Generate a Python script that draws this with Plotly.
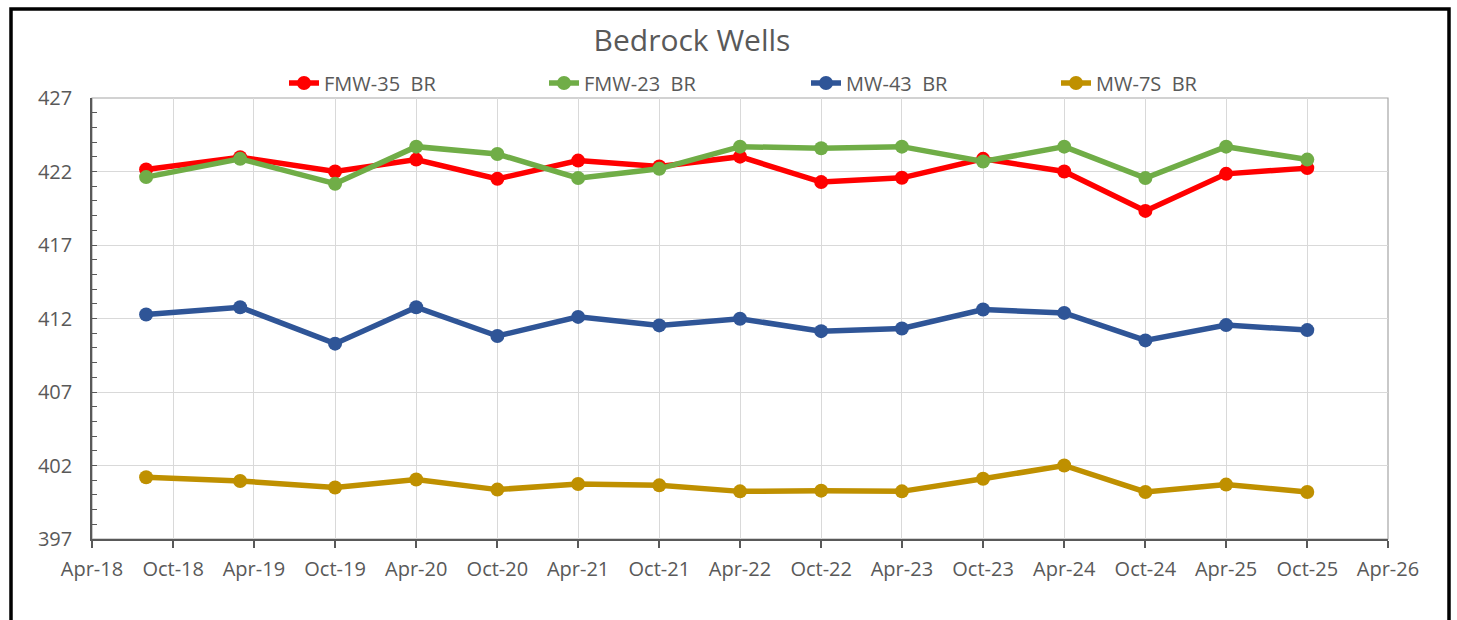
import plotly.graph_objects as go

dates = ["2018-08-01", "2019-03-01", "2019-10-01", "2020-04-01", "2020-10-01",
         "2021-04-01", "2021-10-01", "2022-04-01", "2022-10-01", "2023-04-01",
         "2023-10-01", "2024-04-01", "2024-10-01", "2025-04-01", "2025-10-01"]

fmw35 = [422.14, 422.97, 422.0, 422.81, 421.50, 422.74, 422.34, 423.01, 421.28, 421.57,
         422.86, 422.0, 419.32, 421.84, 422.23]
fmw23 = [421.62, 422.86, 421.17, 423.69, 423.19, 421.55, 422.18, 423.69, 423.58, 423.69,
         422.68, 423.69, 421.55, 423.69, 422.81]
mw43 = [412.27, 412.77, 410.29, 412.77, 410.81, 412.11, 411.53, 411.98, 411.14, 411.32,
        412.61, 412.38, 410.51, 411.55, 411.21]
mw7s = [401.2, 400.95, 400.5, 401.05, 400.36, 400.74, 400.65, 400.24, 400.29, 400.24,
        401.1, 402.0, 400.2, 400.7, 400.2]

series_names = ["FMW-35\u00a0 BR", "FMW-23\u00a0 BR", "MW-43\u00a0 BR", "MW-7S\u00a0 BR"]
series_values = [fmw35, fmw23, mw43, mw7s]
series_colors = ["#FF0000", "#70AD47", "#2F5597", "#BF9000"]

FONT = "Open Sans"
TXT = "#595959"

# legend text start positions (px) for each series
legend_text_px = [325, 585, 847, 1097]
legend_ids = ["legend", "legend2", "legend3", "legend4"]

fig = go.Figure()
for name, vals, col, lid in zip(series_names, series_values, series_colors, legend_ids):
    fig.add_trace(go.Scatter(
        x=dates, y=vals, name=name, mode="lines+markers",
        line=dict(color=col, width=5.5),
        marker=dict(color=col, size=14, symbol="circle"),
        legend=lid,
    ))

legend_layout = {}
for lid, tx in zip(legend_ids, legend_text_px):
    legend_layout[lid] = dict(
        orientation="h", x=(tx - 41 - 92) / 1296, xanchor="left",
        y=1 + 15 / 441, yanchor="middle",
        font=dict(family=FONT, size=20, color=TXT),
        bgcolor="rgba(0,0,0,0)",
    )

fig.update_layout(
    width=1457, height=620,
    margin=dict(l=92, r=69, t=98, b=81, autoexpand=False),
    paper_bgcolor="white", plot_bgcolor="white",
    font=dict(family=FONT, color=TXT, size=20),
    title=dict(text="Bedrock Wells", x=692 / 1457, xanchor="center",
               y=1 - 40 / 620, yanchor="middle",
               font=dict(family=FONT, size=30, color=TXT)),
    showlegend=True,
    xaxis=dict(
        type="date", range=["2018-04-01", "2026-04-01"],
        tick0="2018-04-01", dtick="M6", tickformat="%b-%y",
        showgrid=True, gridcolor="#D9D9D9", gridwidth=1,
        showline=True, linecolor="#595959", linewidth=1.5,
        ticks="outside", ticklen=7, tickcolor="#595959", tickwidth=1.5,
        ticklabelstandoff=4,
        tickfont=dict(family=FONT, size=20, color=TXT),
        zeroline=False, fixedrange=True,
    ),
    yaxis=dict(
        range=[397, 427], tick0=397, dtick=5,
        showgrid=True, gridcolor="#D9D9D9", gridwidth=1,
        showline=True, linecolor="#595959", linewidth=1.5,
        ticks="inside", ticklen=5, tickcolor="#595959", tickwidth=1.2,
        ticklabelstandoff=14,
        minor=dict(dtick=1, tick0=397, ticks="inside", ticklen=5,
                   tickcolor="#595959", tickwidth=1.2, showgrid=False),
        tickfont=dict(family=FONT, size=20, color=TXT),
        zeroline=False, fixedrange=True,
    ),
    shapes=[
        dict(type="rect", xref="paper", yref="paper", x0=0, x1=1, y0=0, y1=1,
             line=dict(color="#A6A6A6", width=1.2), layer="below"),
        dict(type="rect", xref="paper", yref="paper",
             x0=(11 - 92) / 1296, x1=(1449 - 92) / 1296,
             y0=(539 - 650) / 441, y1=(539 - 9) / 441,
             line=dict(color="black", width=3.5), layer="above"),
    ],
    **legend_layout,
)

fig.write_html(
    "out.html",
    config={"displayModeBar": False},
    post_script="document.body.style.margin='0';document.body.style.overflow='hidden';",
)
